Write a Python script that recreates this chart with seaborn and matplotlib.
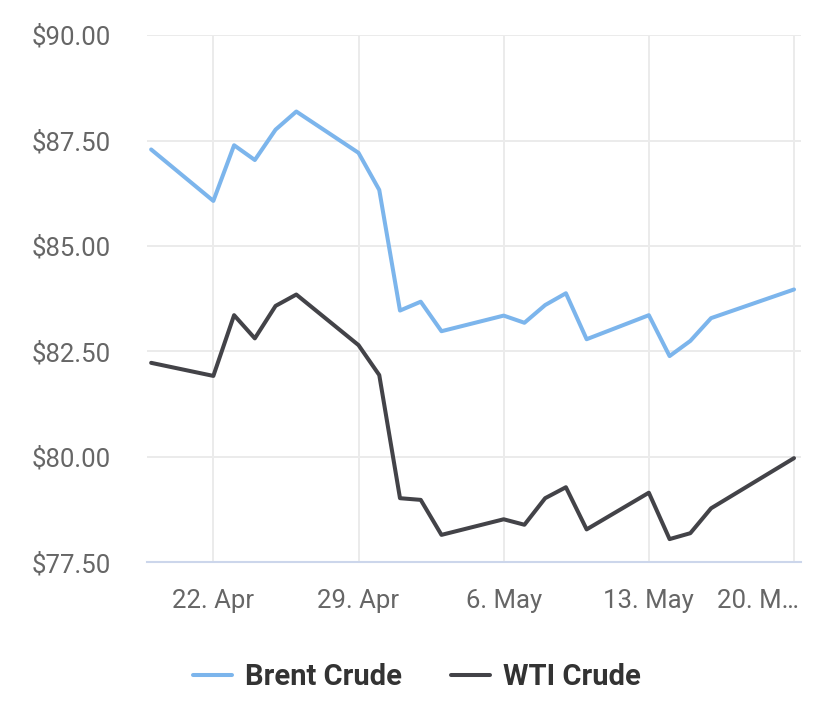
import pandas as pd
import numpy as np
import matplotlib
matplotlib.use("Agg")
import matplotlib.pyplot as plt
import matplotlib.dates as mdates
import matplotlib.transforms as mtransforms
from matplotlib.lines import Line2D
import seaborn as sns

dates = ["2024-04-19", "2024-04-22", "2024-04-23", "2024-04-24", "2024-04-25",
         "2024-04-26", "2024-04-29", "2024-04-30", "2024-05-01", "2024-05-02",
         "2024-05-03", "2024-05-06", "2024-05-07", "2024-05-08", "2024-05-09",
         "2024-05-10", "2024-05-13", "2024-05-14", "2024-05-15", "2024-05-16",
         "2024-05-20"]
brent = [87.29, 86.07, 87.39, 87.04, 87.76, 88.19, 87.21, 86.33, 83.47, 83.68,
         82.98, 83.35, 83.18, 83.60, 83.88, 82.79, 83.36, 82.39, 82.75, 83.29,
         83.97]
wti = [82.23, 81.92, 83.36, 82.81, 83.58, 83.85, 82.65, 81.94, 79.02, 78.98,
       78.15, 78.52, 78.39, 79.02, 79.28, 78.28, 79.15, 78.05, 78.19, 78.78,
       79.97]

tick_dates = ["2024-04-22", "2024-04-29", "2024-05-06", "2024-05-13", "2024-05-20"]
tick_labels = ["22. Apr", "29. Apr", "6. May", "13. May", "20. M\u2026"]
y_ticks = [77.5, 80, 82.5, 85, 87.5, 90]

df = pd.DataFrame({"date": pd.to_datetime(dates), "Brent Crude": brent, "WTI Crude": wti})
df = df.melt(id_vars="date", var_name="series", value_name="price")

sns.set_style("white")
plt.rcParams["font.family"] = ["Roboto", "DejaVu Sans"]

fig = plt.figure(figsize=(8.34, 7.04), dpi=100)
ax = fig.add_axes([0.176, 0.2013, 0.785, 0.7487])

sns.lineplot(data=df, x="date", y="price", hue="series",
             palette={"Brent Crude": "#7cb5ec", "WTI Crude": "#434348"},
             linewidth=2.9, ax=ax, legend=False)

x0 = mdates.date2num(pd.Timestamp("2024-04-22")) - 3.21
x1 = mdates.date2num(pd.Timestamp("2024-05-20")) + 0.36
ax.set_xlim(x0, x1)
ax.set_ylim(77.5, 90)

ax.set_yticks(y_ticks)
ax.set_yticklabels(["${:.2f}".format(v) for v in y_ticks])
ax.set_xticks(mdates.date2num(pd.to_datetime(tick_dates)))
ax.set_xticklabels(tick_labels)

ax.grid(True, color="#ebebeb", linewidth=1.4)
ax.set_axisbelow(True)
for s in ["top", "right", "left"]:
    ax.spines[s].set_visible(False)
ax.spines["bottom"].set_color("#ccd6eb")
ax.spines["bottom"].set_linewidth(1.5)

ax.tick_params(axis="y", length=0, pad=26, labelsize=18.5, labelcolor="#666666")
ax.tick_params(axis="x", length=16.5, width=1.3, color="#ccd6eb", pad=3,
               labelsize=18.5, labelcolor="#666666")
ax.set_xlabel("")
ax.set_ylabel("")

# last label is pushed left so it ends at the plot edge
last = ax.get_xticklabels()[-1]
last.set_horizontalalignment("right")
last.set_transform(last.get_transform() + mtransforms.ScaledTranslation(5 / 100, 0, fig.dpi_scale_trans))

handles = [Line2D([0], [0], color="#7cb5ec", lw=2.9),
           Line2D([0], [0], color="#434348", lw=2.9)]
leg = fig.legend(handles, ["Brent Crude", "WTI Crude"], loc="center",
                 bbox_to_anchor=(0.5, 0.038), ncol=2, frameon=False,
                 prop={"weight": "bold", "size": 21}, handlelength=1.33,
                 handletextpad=0.45, columnspacing=1.7)
for t in leg.get_texts():
    t.set_color("#333333")

fig.savefig("out.png", dpi=100)
